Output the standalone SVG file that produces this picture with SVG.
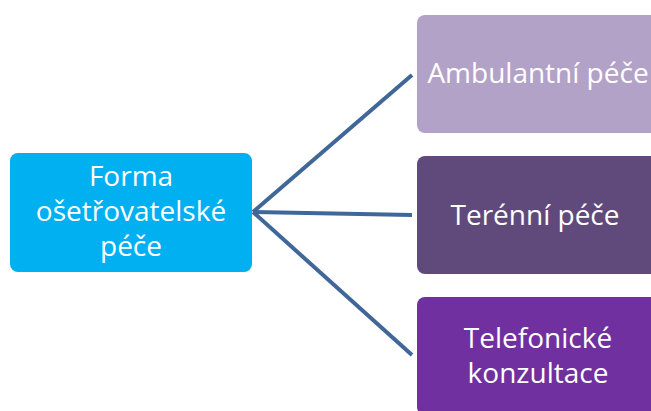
<svg xmlns="http://www.w3.org/2000/svg" width="651" height="411" viewBox="0 0 651 411">
<style>
.t{font-family:"Open Sans","Liberation Sans",sans-serif;font-size:28px;fill:#ffffff;text-anchor:middle}
.c{stroke:#3F6797;stroke-width:4;fill:none;stroke-linecap:butt}
</style>
<rect width="651" height="411" fill="#ffffff"/>
<g id="connectors">
<line class="c" x1="253" y1="212" x2="412" y2="75"/>
<line class="c" x1="253" y1="212" x2="412" y2="215"/>
<line class="c" x1="253" y1="212" x2="412" y2="355"/>
</g>
<g id="forma">
<rect x="10" y="153" width="242" height="119" rx="8" fill="#00B0F0"/>
<text class="t" x="131" y="186">Forma</text>
<text class="t" x="131" y="221">ošetřovatelské</text>
<text class="t" x="131" y="256">péče</text>
</g>
<g id="ambulantni">
<rect x="417" y="15" width="242" height="118" rx="8" fill="#B3A2C7"/>
<text class="t" x="538" y="83">Ambulantní péče</text>
</g>
<g id="terenni">
<rect x="417" y="156" width="242" height="118" rx="8" fill="#604A7B"/>
<text class="t" x="535" y="225">Terénní péče</text>
</g>
<g id="telefonicke">
<rect x="417" y="297" width="242" height="118" rx="8" fill="#7030A0"/>
<text class="t" x="538" y="348">Telefonické</text>
<text class="t" x="538" y="383">konzultace</text>
</g>
</svg>
